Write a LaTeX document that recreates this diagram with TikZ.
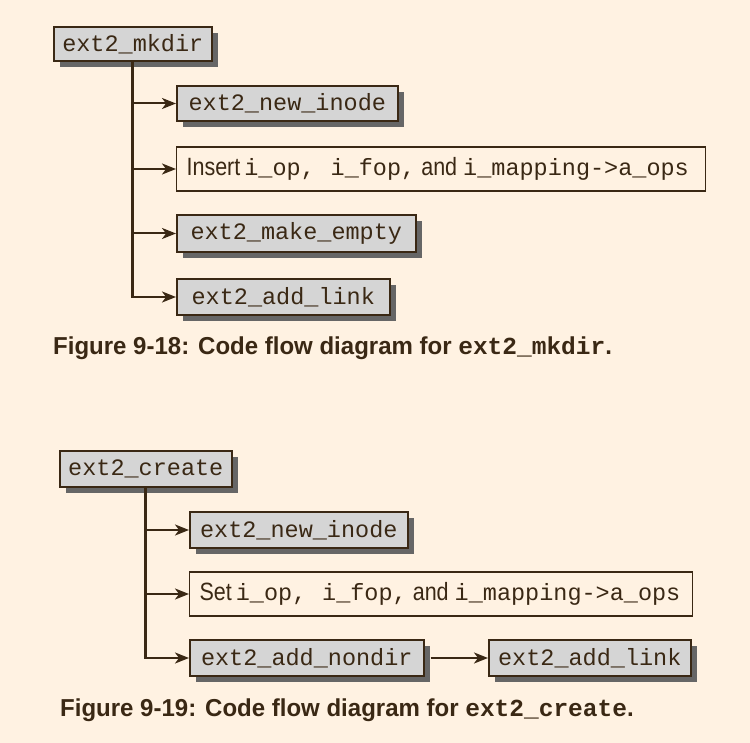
\documentclass[tikz,border=0pt]{standalone}
\usepackage{fontspec}
\setmonofont{Liberation Mono}
\newfontfamily\condsans[FakeStretch=0.86]{Liberation Sans}
\newfontfamily\capsans[FakeStretch=0.98]{Liberation Sans Bold}
\usetikzlibrary{arrows.meta,shadows}
\definecolor{bgc}{HTML}{FFF2E2}
\definecolor{ink}{HTML}{3A2814}
\definecolor{boxfill}{HTML}{D5D5D5}
\definecolor{shade}{HTML}{666666}
\newcommand{\sw}[1]{{\condsans\fontsize{25}{26}\selectfont #1}}
\tikzset{
  fn/.style={draw=ink, line width=1.6pt, fill=boxfill, text=ink,
    font=\fontsize{23.5}{26}\ttfamily, inner xsep=0pt, inner ysep=0pt,
    minimum height=35pt, minimum width=#1, anchor=west,
    drop shadow={shadow xshift=6pt, shadow yshift=-6pt, fill=shade, opacity=1}},
  note/.style={draw=ink, line width=1.2pt, fill=bgc, text=ink,
    font=\fontsize{23.5}{26}\ttfamily, inner xsep=10pt, inner ysep=0pt,
    text width=#1, align=left, minimum height=44pt, anchor=west},
  conn/.style={draw=ink, line width=2pt, -{Stealth[length=14pt,width=11pt,inset=4pt]}},
  trunk/.style={draw=ink, line width=2.8pt},
  captext/.style={text=ink, anchor=west, inner sep=0pt,
    font=\fontsize{24.5}{26}\capsans}
}
\begin{document}
\begin{tikzpicture}[x=1pt,y=-1pt]
\useasboundingbox[fill=bgc] (0,0) rectangle (750,743);
% Figure 9-18
\node[fn=158pt, minimum height=34pt] (mk) at (53,44) {ext2\_mkdir};
\node[fn=221pt] (ni1) at (176,103.5) {ext2\_new\_inode};
\node[note=509pt] (ins) at (176,169) {\sw{Insert}\hspace{4pt}i\_op,\ \hspace{8pt}i\_fop,\hspace{6pt}\sw{and}\hspace{6pt}i\_mapping->a\_ops};
\node[fn=239pt, minimum height=37pt] (me) at (176,233.5) {ext2\_make\_empty};
\node[fn=213pt, minimum height=36pt] (al1) at (176,297) {ext2\_add\_link};
\draw[trunk] (mk.south) -- ([yshift=1.4pt]mk.south |- al1.west);
\draw[conn] (mk.south |- ni1.west) -- (ni1.west);
\draw[conn] (mk.south |- ins.west) -- (ins.west);
\draw[conn] (mk.south |- me.west) -- (me.west);
\draw[conn] ([xshift=-1.4pt]mk.south |- al1.west) -- (al1.west);
\node[captext] (c1) at (53,348) {Figure 9-18: Code flow diagram for \textbf{\ttfamily ext2\_mkdir}.};
% Figure 9-19
\node[fn=172pt, minimum height=36pt] (cr) at (59,469) {ext2\_create};
\node[fn=218pt, minimum height=36pt] (ni2) at (189,530) {ext2\_new\_inode};
\node[note=483pt] (set) at (189,594) {\sw{Set}\hspace{4pt}i\_op,\ \hspace{8pt}i\_fop,\hspace{6pt}\sw{and}\hspace{6pt}i\_mapping->a\_ops};
\node[fn=234pt, minimum height=36pt] (nd) at (189,658) {ext2\_add\_nondir};
\node[fn=202pt, minimum height=36pt] (al2) at (488,658) {ext2\_add\_link};
\draw[trunk] (cr.south) -- ([yshift=1.4pt]cr.south |- nd.west);
\draw[conn] (cr.south |- ni2.west) -- (ni2.west);
\draw[conn] (cr.south |- set.west) -- (set.west);
\draw[conn] ([xshift=-1.4pt]cr.south |- nd.west) -- (nd.west);
\draw[conn] ([xshift=6pt]nd.east) -- (al2.west);
\node[captext] (c2) at (60,710) {Figure 9-19: Code flow diagram for \textbf{\ttfamily ext2\_create}.};
\end{tikzpicture}
\end{document}
